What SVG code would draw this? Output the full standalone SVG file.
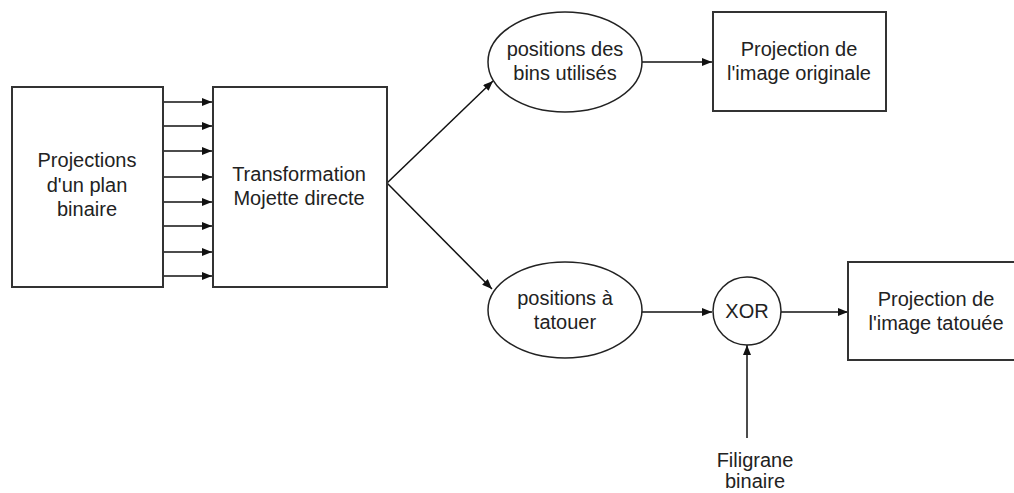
<svg xmlns="http://www.w3.org/2000/svg" width="1014" height="493" viewBox="0 0 1014 493">
<defs>
<style>
.box{fill:#fff;stroke:#333;stroke-width:2}
.ell{fill:#fff;stroke:#222;stroke-width:1.5}
.lbl{font-family:"Liberation Sans",Arial,sans-serif;font-size:20px;fill:#222;text-anchor:middle}
.con{stroke:#111;stroke-width:1.5;fill:none;marker-end:url(#ah)}
</style>
<marker id="ah" viewBox="0 0 10 8" refX="10" refY="4" markerWidth="10" markerHeight="8" markerUnits="userSpaceOnUse" orient="auto">
<path d="M0,0 L10,4 L0,8 Z" fill="#111"/>
</marker>
</defs>
<rect width="1014" height="493" fill="#fff"/>
<g id="connectors">
<line class="con" x1="163" y1="102" x2="212" y2="102"/>
<line class="con" x1="163" y1="126" x2="212" y2="126"/>
<line class="con" x1="163" y1="151" x2="212" y2="151"/>
<line class="con" x1="163" y1="177" x2="212" y2="177"/>
<line class="con" x1="163" y1="202" x2="212" y2="202"/>
<line class="con" x1="163" y1="226" x2="212" y2="226"/>
<line class="con" x1="163" y1="252" x2="212" y2="252"/>
<line class="con" x1="163" y1="276" x2="212" y2="276"/>
<line class="con" x1="387" y1="183" x2="493" y2="81"/>
<line class="con" x1="387" y1="183" x2="492" y2="289"/>
<line class="con" x1="642" y1="62" x2="712" y2="62"/>
<line class="con" x1="642" y1="312" x2="712" y2="312"/>
<line class="con" x1="781" y1="312" x2="848" y2="312"/>
<line class="con" x1="747" y1="438" x2="747" y2="345"/>
</g>
<g id="node-projections">
<rect class="box" x="12" y="87" width="151" height="200"/>
<text class="lbl" x="87" y="167">Projections</text>
<text class="lbl" x="87" y="192">d'un plan</text>
<text class="lbl" x="87" y="216">binaire</text>
</g>
<g id="node-transformation">
<rect class="box" x="213" y="87" width="174" height="200"/>
<text class="lbl" x="299" y="181">Transformation</text>
<text class="lbl" x="299" y="205">Mojette directe</text>
</g>
<g id="node-bins">
<ellipse class="ell" cx="565" cy="62" rx="77" ry="50"/>
<text class="lbl" x="565" y="56">positions des</text>
<text class="lbl" x="565" y="80">bins utilisés</text>
</g>
<g id="node-originale">
<rect class="box" x="713" y="12" width="173" height="99"/>
<text class="lbl" x="799" y="56">Projection de</text>
<text class="lbl" x="799" y="80">l'image originale</text>
</g>
<g id="node-tatouer">
<ellipse class="ell" cx="565" cy="310" rx="77" ry="48"/>
<text class="lbl" x="565" y="305">positions à</text>
<text class="lbl" x="565" y="329">tatouer</text>
</g>
<g id="node-xor">
<circle class="ell" cx="747" cy="311" r="34"/>
<text class="lbl" x="747" y="318">XOR</text>
</g>
<g id="node-tatouee">
<rect class="box" x="848" y="262" width="180" height="98"/>
<text class="lbl" x="936" y="306">Projection de</text>
<text class="lbl" x="936" y="330">l'image tatouée</text>
</g>
<g id="node-filigrane">
<text class="lbl" x="755" y="467">Filigrane</text>
<text class="lbl" x="755" y="488">binaire</text>
</g>
</svg>
